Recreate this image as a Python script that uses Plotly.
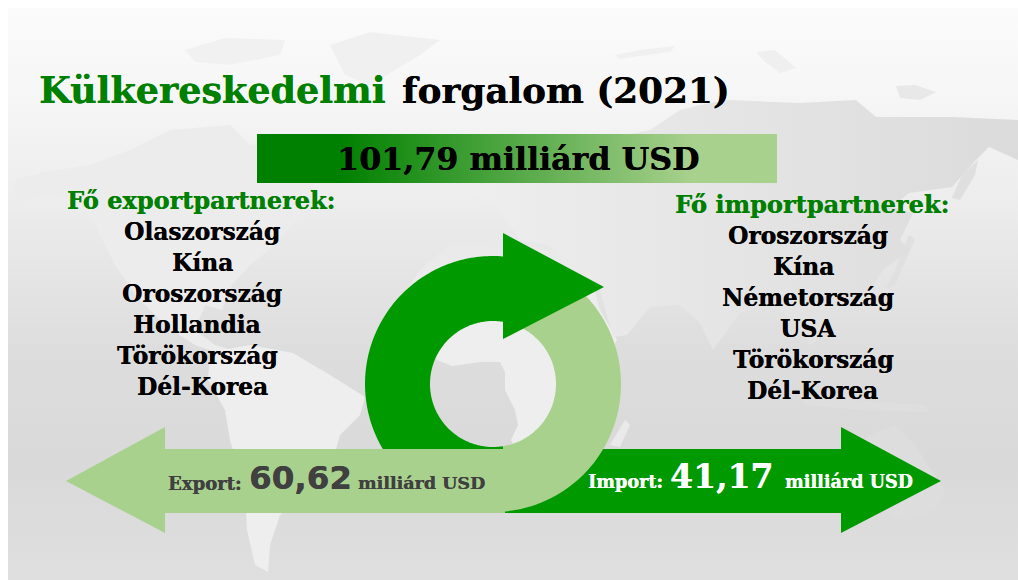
import numpy as np
import plotly.graph_objects as go

# ---------- chart content ----------
TITLE_GREEN = "Külkereskedelmi"
TITLE_BLACK = "forgalom (2021)"
TOTAL_LABEL = "101,79 milliárd USD"
EXPORT_VALUE = "60,62"
IMPORT_VALUE = "41,17"
UNIT = "milliárd USD"
EXPORT_HEADER = "Fő exportpartnerek:"
IMPORT_HEADER = "Fő importpartnerek:"
EXPORT_PARTNERS = ["Olaszország", "Kína", "Oroszország", "Hollandia", "Törökország", "Dél-Korea"]
IMPORT_PARTNERS = ["Oroszország", "Kína", "Németország", "USA", "Törökország", "Dél-Korea"]

# ---------- layout geometry (page pixels) ----------
EXPORT_CX = [202, 202, 202, 197, 197, 202]
EXPORT_Y = [231, 262, 293, 324, 355, 386]
IMPORT_CX = [808, 803, 808, 808, 813, 812]
IMPORT_Y = [235, 266, 297, 328, 359, 390]

DARK = "#009900"
LIGHT = "#A9D18E"
SERIF = "DejaVu Serif"
SANS = "DejaVu Sans"

LAND = [
    # North America
    ("#ececec", [(15,180),(45,172),(90,165),(130,150),(170,130),(230,125),(250,145),(280,140),(300,165),(320,195),(300,215),(275,245),(250,265),(232,285),(222,310),(205,305),(195,330),(215,345),(232,350),(215,352),(195,345),(165,325),(135,295),(115,265),(95,225),(75,200),(45,195),(15,205)]),
    # Arctic islands, Greenland
    ("#f1f1f1", [(185,50),(225,38),(285,40),(280,55),(230,65),(195,62)]),
    ("#f0f0f0", [(330,45),(370,32),(440,40),(420,55),(395,70),(370,85),(345,75)]),
    # South America
    ("#eeeeee", [(210,352),(250,345),(293,353),(330,375),(365,397),(360,415),(340,435),(330,470),(300,495),(280,515),(270,545),(268,572),(255,565),(247,530),(245,490),(230,440),(225,410),(208,380)]),
    ("#eaeaea", [(625,420),(630,425),(620,447),(610,445)]),
    # Australia, islands
    ("#dddddd", [(842,450),(870,435),(895,425),(915,445),(945,490),(935,510),(905,520),(885,510),(850,505),(845,480)]),
    ("#dedede", [(800,395),(850,400),(925,405),(930,412),(860,410),(805,405)]),
    ("#e0e0e0", [(909,235),(915,240),(905,262),(895,285),(885,290),(895,270)]),
    ("#dfdfdf", [(978,160),(975,175),(960,200),(952,198),(962,175)]),
    ("#efefef", [(756,52),(775,50),(796,68),(780,73),(765,62)]),
    ("#e8e8e8", [(896,86),(915,85),(936,92),(920,100),(900,98)]),
    ("#f0f0f0", [(615,55),(640,50),(675,46),(670,52),(640,56),(620,59)]),
]
AFRICA = [(400,300),(420,270),(450,245),(500,240),(550,250),(590,275),(600,310),(617,340),(600,370),(590,410),(570,440),(545,470),(525,470),(511,440),(518,425),(515,410),(505,390),(505,372),(500,362),(480,362),(452,366),(437,360),(415,345)]
EURASIA = [(560,150),(600,140),(650,130),(680,110),(700,105),(729,100),(799,103),(856,100),(876,117),(952,117),(1018,120),(1018,160),(989,147),(976,160),(952,187),(909,193),(892,207),(913,213),(900,240),(910,250),(883,270),(870,290),(845,310),(820,307),(830,330),(810,345),(795,320),(770,305),(740,313),(713,350),(700,323),(680,305),(650,307),(627,335),(613,337),(600,290),(575,280),(550,245),(520,240),(500,210),(470,190),(500,170),(530,165)]

fig = go.Figure()


def poly(points, color=None, gradient=None, name=""):
    xs = [p[0] for p in points] + [points[0][0]]
    ys = [p[1] for p in points] + [points[0][1]]
    kw = dict(fillgradient=gradient) if gradient else dict(fillcolor=color)
    fig.add_trace(go.Scatter(x=xs, y=ys, mode="none", fill="toself", hoverinfo="skip",
                             showlegend=False, name=name, **kw))


def ring_cut(cx, cy, R, r, side, cut_dx=10, n=160):
    """Half ring whose two ends are cut on the vertical line x = cx + cut_dx."""
    ao = np.degrees(np.arccos(cut_dx / R))
    ai = np.degrees(np.arccos(cut_dx / r))
    if side == "right":
        to = np.radians(np.linspace(-ao, ao, n))
        ti = np.radians(np.linspace(ai, -ai, n))
    else:
        to = np.radians(np.linspace(-ao, -360 + ao, n))
        ti = np.radians(np.linspace(-360 + ai, -ai, n))
    return [(cx + R * np.cos(a), cy + R * np.sin(a)) for a in to] + \
           [(cx + r * np.cos(a), cy + r * np.sin(a)) for a in ti]


# background (stops run from the screen bottom to the top because the y axis is reversed)
poly([(8, 8), (1018, 8), (1018, 580), (8, 580)], name="background", gradient=dict(
    type="vertical",
    colorscale=[[0, "#dfdfdf"], [0.2, "#d9d9d9"], [0.4, "#dddddd"], [0.65, "#ececec"], [0.85, "#f6f6f6"], [1, "#fbfbfb"]]))

# world map
for col, pts in LAND:
    poly(pts, color=col, name="land")
poly(AFRICA, name="Africa", gradient=dict(
    type="vertical", colorscale=[[0, "#eeeeee"], [0.6, "#eeeeee"], [1, "#e9e9e9"]]))
poly(EURASIA, name="Eurasia", gradient=dict(
    type="horizontal", colorscale=[[0, "#eeeeee"], [0.4, "#e6e6e6"], [1, "#dbdbdb"]]))

# total band
poly([(257, 134), (777, 134), (777, 183), (257, 183)], name="total", gradient=dict(
    type="horizontal", colorscale=[[0, "#008000"], [0.16, "#008000"], [0.84, LIGHT], [1, LIGHT]]))

CX, CY, RO, RI = 493, 384, 128, 63

# import arrow
poly([(505, 449), (841, 449), (841, 427), (941, 481), (841, 533), (841, 513), (505, 513)], color=DARK, name="import")
# dark half of the ring (top, around the left, to the bottom)
poly(ring_cut(CX, CY, RO, RI, "left"), color=DARK, name="ring dark")
# light half of the ring
poly(ring_cut(CX, CY, RO, RI, "right"), color=LIGHT, name="ring light")
# export arrow
poly([(505, 449), (165, 449), (165, 427), (66, 481), (165, 533), (165, 513), (505, 513)], color=LIGHT, name="export")
# arrow head
poly([(503, 233), (604, 287), (503, 339)], color=DARK, name="head")


def text(s, x, y, size, color="#000000", anchor="center", family=SERIF):
    fig.add_annotation(x=x, y=y, text=s, showarrow=False, xanchor=anchor, yanchor="middle",
                       font=dict(family=family, size=size, color=color,
                                 shadow=f"0.35px 0 0 {color}"), borderpad=0)


def bold(s):
    return f"<b>{s}</b>"


text(bold(TITLE_GREEN), 38, 90, 36.5, "#008000", "left")
text(bold(TITLE_BLACK), 401, 90, 35.8, "#000000", "left")
text(bold(TOTAL_LABEL), 518, 158, 31.7)
text(bold(EXPORT_HEADER), 201, 200, 24, "#008000")
text(bold(IMPORT_HEADER), 812, 204, 24.1, "#008000")
for s, x, y in zip(EXPORT_PARTNERS, EXPORT_CX, EXPORT_Y):
    text(bold(s), x, y, 23.3)
for s, x, y in zip(IMPORT_PARTNERS, IMPORT_CX, IMPORT_Y):
    text(bold(s), x, y, 23.3)

TXT = "#404040"
text(bold("Export:"), 167, 483, 18, TXT, "left")
text(bold(EXPORT_VALUE), 248, 478, 32.5, TXT, "left", SANS)
text(bold(UNIT), 357, 483, 17.5, TXT, "left")
text(bold("Import:"), 587, 481, 17.6, "#ffffff", "left")
text(bold(IMPORT_VALUE), 669, 476, 33, "#ffffff", "left")
text(bold(UNIT), 784, 481, 17.6, "#ffffff", "left")

fig.update_layout(
    width=1018, height=580, margin=dict(l=0, r=0, t=0, b=0),
    paper_bgcolor="#ffffff", plot_bgcolor="#ffffff", showlegend=False,
    xaxis=dict(range=[0, 1018], visible=False, fixedrange=True),
    yaxis=dict(range=[580, 0], visible=False, fixedrange=True),
)
fig.write_html("out.html", config=dict(displayModeBar=False),
               post_script="document.body.style.margin='0';document.body.style.overflow='hidden';")
